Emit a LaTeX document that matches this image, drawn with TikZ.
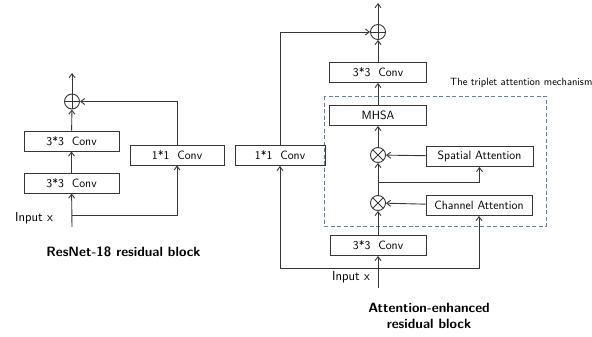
\documentclass[tikz,border=0pt]{standalone}
\usetikzlibrary{arrows.meta}

\definecolor{linegray}{RGB}{55,55,55}
\definecolor{dashblue}{RGB}{95,130,170}

\tikzset{
  convbox/.style={draw=linegray, line width=0.9pt, minimum height=20pt, inner sep=0pt,
                  font=\fontsize{12}{14}\selectfont\sffamily},
  sumnode/.style={circle, draw=linegray, line width=0.9pt, minimum size=15pt, inner sep=0pt,
    path picture={\draw[linegray, line width=0.9pt]
      (path picture bounding box.north) -- (path picture bounding box.south)
      (path picture bounding box.west) -- (path picture bounding box.east);}},
  prodnode/.style={circle, draw=linegray, line width=0.9pt, minimum size=15pt, inner sep=0pt,
    path picture={\draw[linegray, line width=0.9pt]
      (path picture bounding box.north west) -- (path picture bounding box.south east)
      (path picture bounding box.north east) -- (path picture bounding box.south west);}},
  flow/.style={->, draw=linegray, line width=0.9pt},
  inlabel/.style={font=\fontsize{13}{15}\selectfont\sffamily},
  caption/.style={font=\fontsize{13.5}{16}\selectfont\sffamily\bfseries, align=center}
}

\begin{document}
\begin{tikzpicture}[x=1pt, y=-1pt, >={Straight Barb[length=4pt, width=6pt]}]
  \useasboundingbox (0,0) rectangle (592,337);

  % ResNet-18 residual block
  \node[convbox, minimum width=95pt] (convA) at (71.5,141) {3*3\ \ Conv};
  \node[convbox, minimum width=95pt] (convB) at (71.5,183) {3*3\ \ Conv};
  \node[convbox, minimum width=94pt] (shortL) at (177,155) {1*1\ \ Conv};
  \node[sumnode] (sumL) at (72,101.5) {};
  \coordinate (inL) at (72,227);
  \coordinate (outL) at (72,73);
  \coordinate (forkL) at (72,215);
  \node[inlabel] (inLtext) at (34,218) {Input x};

  \draw[flow] (inL) -- (convB);
  \draw[flow] (convB) -- (convA);
  \draw[flow] (convA) -- (sumL);
  \draw[flow] (sumL) -- (outL);
  \draw[flow] (forkL) -| (shortL);
  \draw[flow] (shortL) |- (sumL);

  \node[caption] (capL) at (123.5,252) {ResNet-18 residual block};

  % Attention-enhanced residual block
  \draw[dashblue, dashed, line width=0.9pt, dash pattern=on 4pt off 2.5pt] (324,96) rectangle (546,226);
  \node[font=\fontsize{10.5}{12}\selectfont\sffamily, anchor=west, inner sep=0pt] (tripText) at (450,83) {The triplet attention mechanism};

  \node[sumnode] (sumR) at (378,32) {};
  \node[convbox, minimum width=97pt] (convC) at (378,72.5) {3*3\ \ Conv};
  \node[convbox, minimum width=97pt] (mhsa) at (378,115.5) {MHSA};
  \node[prodnode] (mulS) at (378,155) {};
  \node[prodnode] (mulC) at (378,203) {};
  \node[convbox, minimum width=107pt] (spatial) at (479.5,156.5) {Spatial Attention};
  \node[convbox, minimum width=106pt] (channel) at (479,205.5) {Channel Attention};
  \node[convbox, minimum width=96pt] (convD) at (378,245.5) {3*3\ \ Conv};
  \node[convbox, minimum width=90pt] (shortR) at (280,155.5) {1*1\ \ Conv};
  \coordinate (inR) at (378,288);
  \coordinate (outR) at (378,3);
  \coordinate (forkR) at (378,268);
  \coordinate (splitS) at (378,182);
  \node[inlabel] (inRtext) at (351,277) {Input x};

  \draw[flow] (inR) -- (convD);
  \draw[flow] (convD) -- (mulC);
  \draw[flow] (mulC) -- (mulS);
  \draw[flow] (mulS) -- (mhsa);
  \draw[flow] (mhsa) -- (convC);
  \draw[flow] (convC) -- (sumR);
  \draw[flow] (sumR) -- (outR);
  \draw[flow] (channel) -- (mulC);
  \draw[flow] (spatial) -- (mulS);
  \draw[flow] (splitS) -| (spatial);
  \draw[flow] (forkR) -| (channel);
  \draw[flow] (forkR) -| (shortR);
  \draw[flow] (shortR) |- (sumR);

  \node[caption] (capR) at (429,316) {Attention-enhanced\\residual block};
\end{tikzpicture}
\end{document}
